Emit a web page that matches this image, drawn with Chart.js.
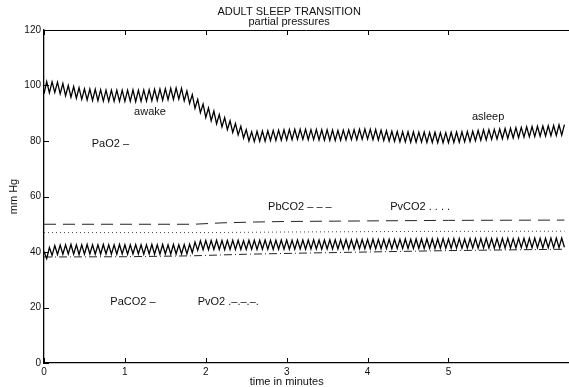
<!DOCTYPE html>
<html>
<head>
<meta charset="utf-8">
<script src="https://cdn.jsdelivr.net/npm/chart.js@4/dist/chart.umd.min.js"></script>
<style>
  body { margin: 0; background: #fff; }
  #wrap { width: 569px; height: 387px; }
</style>
</head>
<body>
<div id="wrap"><canvas id="sleepChart"></canvas></div>
<script>
// sample times in seconds, one sample per half breath (15 breaths / min)
const breathSec = [
    0, 2, 4, 6, 8, 10, 12, 14, 16, 18,
    20, 22, 24, 26, 28, 30, 32, 34, 36, 38,
    40, 42, 44, 46, 48, 50, 52, 54, 56, 58,
    60, 62, 64, 66, 68, 70, 72, 74, 76, 78,
    80, 82, 84, 86, 88, 90, 92, 94, 96, 98,
    100, 102, 104, 106, 108, 110, 112, 114, 116, 118,
    120, 122, 124, 126, 128, 130, 132, 134, 136, 138,
    140, 142, 144, 146, 148, 150, 152, 154, 156, 158,
    160, 162, 164, 166, 168, 170, 172, 174, 176, 178,
    180, 182, 184, 186, 188, 190, 192, 194, 196, 198,
    200, 202, 204, 206, 208, 210, 212, 214, 216, 218,
    220, 222, 224, 226, 228, 230, 232, 234, 236, 238,
    240, 242, 244, 246, 248, 250, 252, 254, 256, 258,
    260, 262, 264, 266, 268, 270, 272, 274, 276, 278,
    280, 282, 284, 286, 288, 290, 292, 294, 296, 298,
    300, 302, 304, 306, 308, 310, 312, 314, 316, 318,
    320, 322, 324, 326, 328, 330, 332, 334, 336, 338,
    340, 342, 344, 346, 348, 350, 352, 354, 356, 358,
    360, 362, 364, 366, 368, 370, 372, 374, 376, 378,
    380, 382, 384, 386
];

// arterial O2 (mm Hg)
const paO2 = [
    97.0, 101.4, 97.4, 101.3, 97.5, 101.2, 97.0, 100.7, 96.3, 100.0,
    95.8, 99.6, 95.4, 99.2, 95.0, 98.8, 94.8, 98.7, 94.6, 98.6,
    94.5, 98.5, 94.4, 98.3, 94.3, 98.3, 94.3, 98.3, 94.3, 98.3,
    94.3, 98.3, 94.3, 98.4, 94.2, 98.3, 94.3, 98.4, 94.4, 98.5,
    94.5, 98.6, 94.6, 98.7, 94.7, 98.8, 94.9, 99.0, 95.0, 99.1,
    95.1, 99.0, 94.5, 98.0, 93.5, 96.7, 91.8, 95.0, 90.2, 93.3,
    88.5, 91.9, 87.3, 90.8, 86.2, 89.5, 85.1, 88.4, 84.1, 87.3,
    83.1, 86.3, 82.2, 85.3, 81.1, 84.1, 80.0, 83.3, 79.8, 83.5,
    79.9, 83.6, 79.9, 83.7, 80.2, 83.8, 80.2, 83.9, 80.3, 84.0,
    80.4, 84.1, 80.5, 84.2, 80.6, 84.2, 80.6, 84.2, 80.5, 84.1,
    80.5, 84.1, 80.4, 84.0, 80.3, 84.0, 80.2, 83.9, 80.2, 83.8,
    80.3, 83.9, 80.4, 84.0, 80.5, 84.1, 80.5, 84.2, 80.6, 84.3,
    80.7, 84.2, 80.5, 84.1, 80.4, 83.9, 80.2, 83.7, 80.0, 83.5,
    79.9, 83.4, 79.7, 83.3, 79.7, 83.3, 79.6, 83.3, 79.6, 83.2,
    79.6, 83.2, 79.5, 83.1, 79.5, 83.1, 79.4, 83.0, 79.4, 83.0,
    79.4, 83.1, 79.5, 83.2, 79.6, 83.3, 79.7, 83.4, 79.8, 83.5,
    80.1, 83.8, 80.3, 84.0, 80.4, 84.1, 80.6, 84.2, 80.7, 84.3,
    80.8, 84.5, 80.9, 84.6, 81.1, 84.8, 81.2, 84.9, 81.4, 85.1,
    81.5, 85.2, 81.6, 85.3, 81.7, 85.4, 81.8, 85.5, 81.9, 85.6,
    82.0, 85.8, 82.1, 85.9
];

// arterial CO2 (mm Hg)
const paCO2 = [
    40.2, 37.6, 41.6, 38.8, 42.3, 39.1, 42.5, 39.2, 42.6, 39.3,
    42.7, 39.2, 42.6, 39.1, 42.6, 39.2, 42.7, 39.3, 42.6, 39.2,
    42.6, 39.2, 42.7, 39.3, 42.6, 39.2, 42.6, 39.2, 42.7, 39.3,
    42.6, 39.2, 42.6, 39.3, 42.7, 39.3, 42.6, 39.2, 42.6, 39.3,
    42.7, 39.2, 42.6, 39.2, 42.7, 39.3, 42.6, 39.2, 42.7, 39.3,
    42.6, 39.3, 42.7, 39.3, 42.8, 39.8, 43.6, 40.6, 44.0, 40.8,
    44.1, 40.8, 44.1, 40.9, 44.2, 40.9, 44.1, 40.8, 44.1, 40.9,
    44.2, 40.9, 44.2, 40.9, 44.1, 40.9, 44.2, 41.0, 44.2, 40.9,
    44.2, 41.0, 44.3, 41.0, 44.2, 40.9, 44.2, 41.0, 44.3, 41.0,
    44.3, 41.0, 44.2, 41.0, 44.3, 41.1, 44.3, 41.0, 44.3, 41.1,
    44.4, 41.1, 44.3, 41.0, 44.3, 41.1, 44.4, 41.1, 44.4, 41.1,
    44.4, 41.2, 44.5, 41.1, 44.4, 41.1, 44.5, 41.2, 44.5, 41.2,
    44.5, 41.2, 44.6, 41.2, 44.5, 41.2, 44.6, 41.3, 44.6, 41.2,
    44.6, 41.3, 44.6, 41.3, 44.7, 41.3, 44.6, 41.3, 44.7, 41.3,
    44.7, 41.3, 44.7, 41.4, 44.7, 41.3, 44.7, 41.4, 44.8, 41.4,
    44.7, 41.4, 44.8, 41.4, 44.8, 41.4, 44.7, 41.4, 44.8, 41.5,
    44.8, 41.4, 44.8, 41.5, 44.9, 41.5, 44.8, 41.4, 44.8, 41.5,
    44.9, 41.5, 44.9, 41.5, 44.8, 41.5, 44.9, 41.6, 44.9, 41.5,
    44.9, 41.6, 45.0, 41.6, 44.9, 41.5, 44.9, 41.6, 45.0, 41.6,
    45.0, 41.6, 45.0, 41.7
];

// slow (smooth) pressures, times in seconds
const pbCO2Sec = [0, 111, 132, 156, 180, 240, 300, 386];
const pbCO2 = [50, 50, 50.5, 50.8, 51, 51.2, 51.4, 51.5];

const pvCO2Sec = [0, 120, 180, 270, 386];
const pvCO2 = [47, 47, 47.2, 47.4, 47.5];

const pvO2Sec = [0, 60, 108, 150, 192, 240, 300, 386];
const pvO2 = [38.2, 38.3, 38.6, 39.2, 39.6, 40.0, 40.5, 41.0];

const xTicks = [0, 1, 2, 3, 4, 5];
const yTicks = [0, 20, 40, 60, 80, 100, 120];

// in-plot text (minutes, mm Hg)
const notes = [
    { text: 'awake', x: 1.31, y: 90.5, align: 'center' },
    { text: 'asleep', x: 5.49, y: 88.6, align: 'center' },
    { text: 'PaO2 \u2013', x: 0.59, y: 78.9, align: 'left' },
    { text: 'PbCO2 \u2013 \u2013 \u2013', x: 2.77, y: 56.2, align: 'left' },
    { text: 'PvCO2 . . . .', x: 4.28, y: 56.2, align: 'left' },
    { text: 'PaCO2 \u2013', x: 0.82, y: 22.0, align: 'left' },
    { text: 'PvO2 .\u2013.\u2013.\u2013.', x: 1.90, y: 22.0, align: 'left' }
];

const FONT = '"Liberation Sans", Arial, sans-serif';

// seconds -> minutes on the x axis
function pairs(secs, ys) {
    return secs.map((s, i) => ({ x: s / 60, y: ys[i] }));
}

const overlay = {
    id: 'overlay',
    afterDatasetsDraw(chart) {
        const { ctx, chartArea: a, scales: { x, y } } = chart;
        ctx.save();
        ctx.strokeStyle = '#000';
        ctx.lineWidth = 1;
        ctx.beginPath();
        ctx.moveTo(a.left, a.top + 0.5);
        ctx.lineTo(a.right, a.top + 0.5);
        xTicks.forEach(v => {
            const px = Math.round(x.getPixelForValue(v)) + 0.5;
            ctx.moveTo(px, a.bottom);
            ctx.lineTo(px, a.bottom - 5);
            ctx.moveTo(px, a.top);
            ctx.lineTo(px, a.top + 5);
        });
        yTicks.forEach(v => {
            const py = Math.round(y.getPixelForValue(v)) + 0.5;
            ctx.moveTo(a.left, py);
            ctx.lineTo(a.left + 5, py);
        });
        ctx.stroke();

        ctx.fillStyle = '#111';
        ctx.font = '11px ' + FONT;
        ctx.textBaseline = 'middle';
        notes.forEach(n => {
            ctx.textAlign = n.align;
            ctx.fillText(n.text, x.getPixelForValue(n.x), y.getPixelForValue(n.y));
        });

        // titles
        ctx.textAlign = 'center';
        const cx = x.getPixelForValue(3.03);
        ctx.fillText('ADULT SLEEP TRANSITION', cx, a.top - 18);
        ctx.fillText('partial pressures', cx, a.top - 8);
        ctx.fillText('time in minutes', x.getPixelForValue(3.0), a.bottom + 19);

        ctx.translate(14, (a.top + a.bottom) / 2);
        ctx.rotate(-Math.PI / 2);
        ctx.fillText('mm Hg', 0, 0);
        ctx.restore();
    }
};

const ctx = document.getElementById('sleepChart').getContext('2d');

const sleepChart = new Chart(ctx, {
    type: 'line',
    data: {
        datasets: [
            { label: 'PaO2', data: pairs(breathSec, paO2), borderColor: '#000', borderWidth: 1.3 },
            { label: 'PaCO2', data: pairs(breathSec, paCO2), borderColor: '#000', borderWidth: 1.3 },
            { label: 'PbCO2', data: pairs(pbCO2Sec, pbCO2), borderColor: '#222', borderWidth: 1, borderDash: [12, 7] },
            { label: 'PvCO2', data: pairs(pvCO2Sec, pvCO2), borderColor: '#444', borderWidth: 1, borderDash: [1, 3] },
            { label: 'PvO2', data: pairs(pvO2Sec, pvO2), borderColor: '#222', borderWidth: 1, borderDash: [8, 3, 1, 3] }
        ]
    },
    options: {
        responsive: true,
        maintainAspectRatio: false,
        animation: false,
        elements: { point: { radius: 0 }, line: { tension: 0 } },
        layout: { padding: { top: 30, left: 0, right: 0, bottom: 0 } },
        plugins: {
            legend: { display: false },
            title: { display: false },
            tooltip: { enabled: false }
        },
        scales: {
            x: {
                type: 'linear',
                min: 0,
                max: 6.49,
                afterBuildTicks: (axis) => { axis.ticks = xTicks.map(v => ({ value: v })); },
                afterFit: (axis) => { axis.height = 24; },
                grid: { display: false, drawTicks: false },
                border: { display: true, color: '#000', width: 1.3 },
                ticks: { color: '#111', padding: 3, maxRotation: 0, font: { family: FONT, size: 10 } }
            },
            y: {
                min: 0,
                max: 120,
                afterBuildTicks: (axis) => { axis.ticks = yTicks.map(v => ({ value: v })); },
                afterFit: (axis) => { axis.width = 44; },
                grid: { display: false, drawTicks: false },
                border: { display: true, color: '#000', width: 1.3 },
                ticks: { color: '#111', padding: 3, font: { family: FONT, size: 10 } }
            }
        }
    },
    plugins: [overlay]
});
</script>
</body>
</html>
